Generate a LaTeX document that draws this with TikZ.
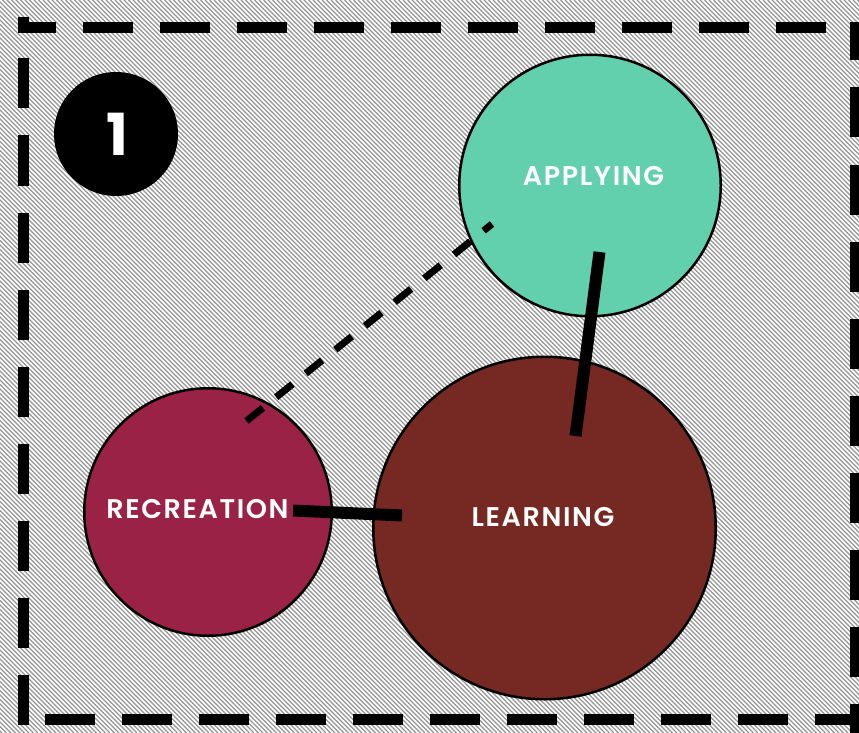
\documentclass[tikz,border=0pt]{standalone}
\usepackage{fontspec}
\IfFontExistsTF{Poppins SemiBold}
  {\newfontfamily\labelfont{Poppins SemiBold}[LetterSpace=6]}
  {\newfontfamily\labelfont{Poppins}[LetterSpace=4]}
\newfontfamily\numberfont{Poppins}
\definecolor{applyingGreen}{RGB}{98,208,172}
\definecolor{recreationRed}{RGB}{155,34,71}
\definecolor{learningBrown}{RGB}{118,40,34}
\definecolor{hatchGray}{RGB}{150,150,150}
\begin{document}
\begin{tikzpicture}[x=1pt,y=-1pt,
  bubble/.style={circle, draw=black, line width=2.5pt, inner sep=0pt},
  tag/.style={text=white, font=\labelfont\fontsize{27}{27}\selectfont, inner sep=0pt, anchor=center},
  hatch/.style={draw=hatchGray, line width=1.1pt},
  frameside/.style={line width=11pt, dash pattern=on 50pt off 27pt, line cap=butt},
  link/.style={line width=12pt, line cap=butt},
  weaklink/.style={line width=7pt, dash pattern=on 21pt off 17pt, line cap=butt}]
\useasboundingbox (0,0) rectangle (859,733);
% hatched background
\fill[white] (0,0) rectangle (859,733);
\begin{scope}
  \clip (0,0) rectangle (859,733);
  \foreach \k in {-740,-735.5,...,862} \draw[hatch] (\k,0) -- ++(733,733);
\end{scope}
% dashed frame, one side at a time
\draw[frameside, dash phase=12pt] (17.5,28) -- (862,28);
\draw[frameside, dash phase=12pt] (855.5,22.5) -- (855.5,736);
\draw[frameside, dash phase=50pt] (17.5,719) -- (862,719);
\draw[frameside, dash phase=0pt] (23,724.5) -- (23,17);
% step number
\node[circle, fill=black, minimum size=124pt, inner sep=0pt] (badge) at (116,134) {};
\node[text=white, font=\numberfont\bfseries\fontsize{58}{58}\selectfont, inner sep=0pt] (badgenum) at (117,134) {1};
% circles
\node[bubble, fill=applyingGreen, minimum size=261.5pt] (applying) at (590,185.5) {};
\node[bubble, fill=recreationRed, minimum size=247.5pt] (recreation) at (208,512) {};
\node[bubble, fill=learningBrown, minimum size=342.5pt] (learning) at (544.5,528) {};
% labels
\node[tag] (applyingtxt) at (593.5,176) {APPLYING};
\node[tag] (recreationtxt) at (197.5,509) {RECREATION};
\node[tag] (learningtxt) at (543,517) {LEARNING};
% connector ends
\coordinate (app-weak) at (492,224);
\coordinate (rec-weak) at (246.5,421);
\coordinate (app-strong) at (599.5,252);
\coordinate (lrn-strong) at (575.5,436);
\coordinate (rec-strong) at (293,510.5);
\coordinate (lrn-rec) at (402,515.5);
% connectors
\draw[weaklink] (rec-weak) -- (app-weak);
\draw[link] (app-strong) -- (lrn-strong);
\draw[link] (rec-strong) -- (lrn-rec);
\end{tikzpicture}
\end{document}
